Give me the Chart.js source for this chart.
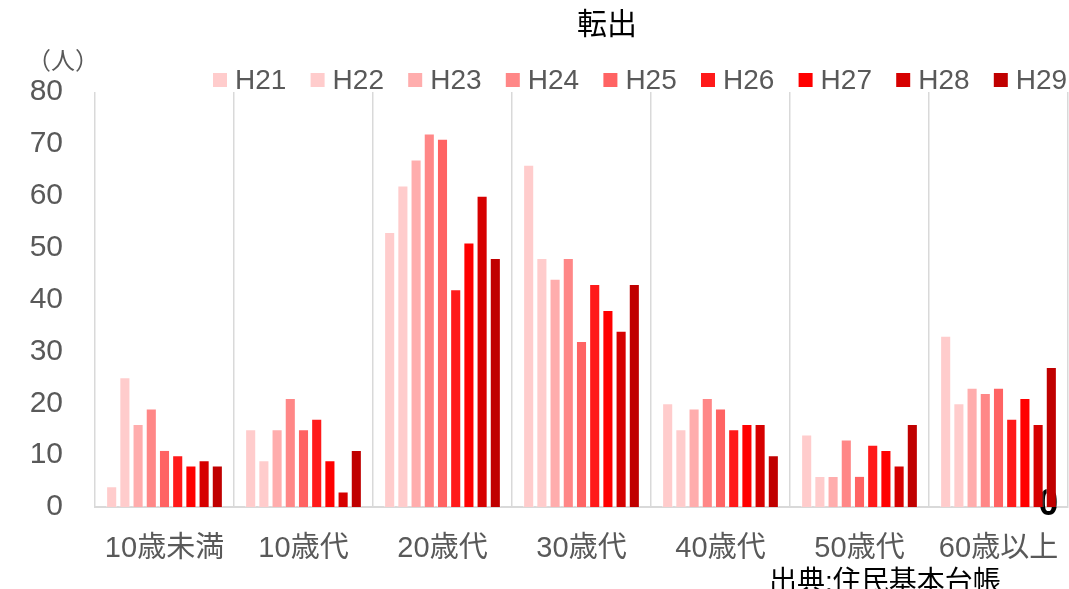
<!DOCTYPE html>
<html>
<head>
<meta charset="utf-8">
<script src="https://cdn.jsdelivr.net/npm/chart.js@4/dist/chart.umd.min.js"></script>
<style>
  html, body { margin: 0; padding: 0; background: #fff; }
  #wrap { width: 1069px; height: 589px; position: relative; }
</style>
</head>
<body>
<div id="wrap"><canvas id="c" width="1069" height="589"></canvas></div>
<script>
// Age groups on the x axis
const categories = ['10歳未満', '10歳代', '20歳代', '30歳代', '40歳代', '50歳代', '60歳以上'];
// Fiscal years (Heisei)
const years = ['H21', 'H22', 'H23', 'H24', 'H25', 'H26', 'H27', 'H28', 'H29'];
// Out-migrants per age group, one array per year
const h21 = [4, 15, 53, 66, 20, 14, 33];
const h22 = [25, 9, 62, 48, 15, 6, 20];
const h23 = [16, 15, 67, 44, 19, 6, 23];
const h24 = [19, 21, 72, 48, 21, 13, 22];
const h25 = [11, 15, 71, 32, 19, 6, 23];
const h26 = [10, 17, 42, 43, 15, 12, 17];
const h27 = [8, 9, 51, 38, 16, 11, 21];
const h28 = [9, 3, 60, 34, 16, 8, 16];
const h29 = [8, 11, 48, 43, 10, 16, 27];
const yTicks = [0, 10, 20, 30, 40, 50, 60, 70, 80];

const seriesValues = [h21, h22, h23, h24, h25, h26, h27, h28, h29];
const colors = ['#FFCCCC', '#FFCCCC', '#FFADAD', '#FF8787', '#FF6363', '#FF1A1A', '#FF0000', '#D60000', '#C00000'];

const FONT = '"Liberation Sans", "Noto Sans CJK JP", Arial, sans-serif';
const GRAY = '#595959';

// Title, unit, legend and source note
const decorations = {
  id: 'decorations',
  beforeDatasetsDraw(chart) {
    const ctx = chart.ctx;
    const x = chart.scales.x;
    const y = chart.scales.y;
    // stray zero label sitting under the last bar of the last group
    ctx.save();
    ctx.fillStyle = '#000';
    ctx.font = 'bold 36px ' + FONT;
    ctx.textAlign = 'center';
    ctx.textBaseline = 'middle';
    ctx.fillText('0', x.getPixelForValue(6) + 50, y.getPixelForValue(0) - 2);
    ctx.restore();
  },
  afterDraw(chart) {
    const ctx = chart.ctx;
    ctx.save();
    // title
    ctx.fillStyle = '#000';
    ctx.font = '30px ' + FONT;
    ctx.textAlign = 'center';
    ctx.textBaseline = 'middle';
    ctx.fillText('転出', 607, 26);
    // unit
    ctx.fillStyle = GRAY;
    ctx.font = '24px ' + FONT;
    ctx.textAlign = 'left';
    ctx.fillText('（人）', 27, 62);
    // legend
    ctx.font = '28px ' + FONT;
    ctx.textBaseline = 'middle';
    chart.data.datasets.forEach((ds, i) => {
      const lx = 213 + i * 97.6;
      ctx.fillStyle = ds.backgroundColor;
      ctx.fillRect(lx, 73, 14, 14);
      ctx.fillStyle = GRAY;
      ctx.fillText(ds.label, lx + 22, 81);
    });
    // source
    ctx.fillStyle = '#000';
    ctx.font = '28px ' + FONT;
    ctx.textBaseline = 'top';
    ctx.fillText('出典:住民基本台帳', 769, 569);
    ctx.restore();
  }
};

new Chart(document.getElementById('c'), {
  type: 'bar',
  data: {
    labels: categories,
    datasets: years.map((yr, i) => ({
      label: yr,
      data: seriesValues[i],
      backgroundColor: colors[i],
      borderColor: 'rgba(255,255,255,0.45)',
      borderWidth: 1,
      categoryPercentage: 0.855,
      barPercentage: 0.84
    }))
  },
  options: {
    responsive: false,
    animation: false,
    layout: { padding: { top: 92, right: 1, left: 0, bottom: 0 } },
    plugins: {
      legend: { display: false },
      title: { display: false },
      tooltip: { enabled: false }
    },
    scales: {
      x: {
        grid: { display: true, offset: true, color: '#D9D9D9', lineWidth: 1.5, drawTicks: false },
        border: { display: true, color: '#D9D9D9', width: 2 },
        ticks: { color: GRAY, font: { size: 29, family: FONT }, padding: 25, maxRotation: 0 },
        afterFit(scale) {
          scale.height = 82;
          scale.paddingLeft = 0;
          scale.paddingRight = 0;
        }
      },
      y: {
        min: 0,
        max: 80,
        afterBuildTicks(scale) { scale.ticks = yTicks.map(v => ({ value: v })); },
        grid: { display: false },
        border: { display: false },
        ticks: { color: GRAY, font: { size: 30, family: FONT }, padding: 24 },
        afterFit(scale) { scale.width = 95; }
      }
    }
  },
  plugins: [decorations]
});
</script>
</body>
</html>
